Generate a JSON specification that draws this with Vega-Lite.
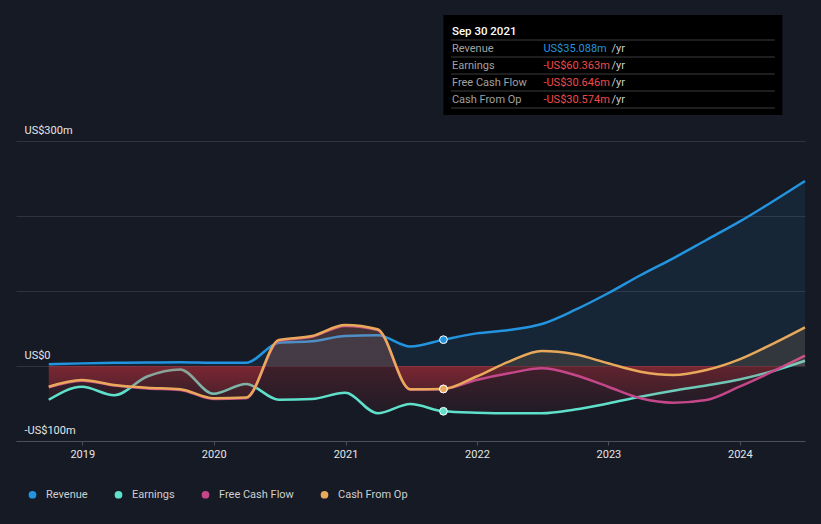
{
  "$schema": "https://vega.github.io/schema/vega-lite/v6.json",
  "width": 789,
  "height": 441,
  "autosize": {"type": "none"},
  "padding": {"left": 16, "top": 0, "right": 16, "bottom": 83},
  "background": "#151a24",
  "config": {"view": {"stroke": null}, "font": "Roboto"},
  "datasets": {
    "fin": [
      {"date": "2018-09-30", "series": "Revenue", "value": 2.3},
      {"date": "2018-12-31", "series": "Revenue", "value": 3.5},
      {"date": "2019-03-31", "series": "Revenue", "value": 4.2},
      {"date": "2019-06-30", "series": "Revenue", "value": 4.6},
      {"date": "2019-09-30", "series": "Revenue", "value": 5.0},
      {"date": "2019-12-31", "series": "Revenue", "value": 4.3},
      {"date": "2020-03-31", "series": "Revenue", "value": 4.4},
      {"date": "2020-06-30", "series": "Revenue", "value": 31},
      {"date": "2020-09-30", "series": "Revenue", "value": 33},
      {"date": "2020-12-31", "series": "Revenue", "value": 40},
      {"date": "2021-03-31", "series": "Revenue", "value": 41},
      {"date": "2021-06-30", "series": "Revenue", "value": 26},
      {"date": "2021-09-30", "series": "Revenue", "value": 35.088},
      {"date": "2021-12-31", "series": "Revenue", "value": 43.5},
      {"date": "2022-03-31", "series": "Revenue", "value": 48},
      {"date": "2022-06-30", "series": "Revenue", "value": 56},
      {"date": "2022-09-30", "series": "Revenue", "value": 74.7},
      {"date": "2022-12-31", "series": "Revenue", "value": 97},
      {"date": "2023-03-31", "series": "Revenue", "value": 121},
      {"date": "2023-06-30", "series": "Revenue", "value": 143.6},
      {"date": "2023-09-30", "series": "Revenue", "value": 168},
      {"date": "2023-12-31", "series": "Revenue", "value": 192.4},
      {"date": "2024-03-31", "series": "Revenue", "value": 219},
      {"date": "2024-06-30", "series": "Revenue", "value": 246.7},
      {"date": "2018-09-30", "series": "Earnings", "value": -45},
      {"date": "2018-12-31", "series": "Earnings", "value": -27.6},
      {"date": "2019-03-31", "series": "Earnings", "value": -39},
      {"date": "2019-06-30", "series": "Earnings", "value": -14},
      {"date": "2019-09-30", "series": "Earnings", "value": -4.5},
      {"date": "2019-12-31", "series": "Earnings", "value": -37},
      {"date": "2020-03-31", "series": "Earnings", "value": -24},
      {"date": "2020-06-30", "series": "Earnings", "value": -45},
      {"date": "2020-09-30", "series": "Earnings", "value": -44},
      {"date": "2020-12-31", "series": "Earnings", "value": -35.6},
      {"date": "2021-03-31", "series": "Earnings", "value": -63},
      {"date": "2021-06-30", "series": "Earnings", "value": -50.7},
      {"date": "2021-09-30", "series": "Earnings", "value": -60.363},
      {"date": "2021-12-31", "series": "Earnings", "value": -62.2},
      {"date": "2022-03-31", "series": "Earnings", "value": -63},
      {"date": "2022-06-30", "series": "Earnings", "value": -63},
      {"date": "2022-09-30", "series": "Earnings", "value": -58},
      {"date": "2022-12-31", "series": "Earnings", "value": -50},
      {"date": "2023-03-31", "series": "Earnings", "value": -41},
      {"date": "2023-06-30", "series": "Earnings", "value": -33},
      {"date": "2023-09-30", "series": "Earnings", "value": -26},
      {"date": "2023-12-31", "series": "Earnings", "value": -18},
      {"date": "2024-03-31", "series": "Earnings", "value": -7},
      {"date": "2024-06-30", "series": "Earnings", "value": 7},
      {"date": "2018-09-30", "series": "Free Cash Flow", "value": -28.5},
      {"date": "2018-12-31", "series": "Free Cash Flow", "value": -19.5},
      {"date": "2019-03-31", "series": "Free Cash Flow", "value": -26},
      {"date": "2019-06-30", "series": "Free Cash Flow", "value": -30},
      {"date": "2019-09-30", "series": "Free Cash Flow", "value": -32},
      {"date": "2019-12-31", "series": "Free Cash Flow", "value": -44},
      {"date": "2020-03-31", "series": "Free Cash Flow", "value": -43},
      {"date": "2020-06-30", "series": "Free Cash Flow", "value": 33.5},
      {"date": "2020-09-30", "series": "Free Cash Flow", "value": 39},
      {"date": "2020-12-31", "series": "Free Cash Flow", "value": 53.5},
      {"date": "2021-03-31", "series": "Free Cash Flow", "value": 48},
      {"date": "2021-06-30", "series": "Free Cash Flow", "value": -31.5},
      {"date": "2021-09-30", "series": "Free Cash Flow", "value": -30.646},
      {"date": "2021-12-31", "series": "Free Cash Flow", "value": -18.7},
      {"date": "2022-03-31", "series": "Free Cash Flow", "value": -9.8},
      {"date": "2022-06-30", "series": "Free Cash Flow", "value": -3.1},
      {"date": "2022-09-30", "series": "Free Cash Flow", "value": -12},
      {"date": "2022-12-31", "series": "Free Cash Flow", "value": -27.6},
      {"date": "2023-03-31", "series": "Free Cash Flow", "value": -43},
      {"date": "2023-06-30", "series": "Free Cash Flow", "value": -48.9},
      {"date": "2023-09-30", "series": "Free Cash Flow", "value": -45.3},
      {"date": "2023-12-31", "series": "Free Cash Flow", "value": -27.6},
      {"date": "2024-03-31", "series": "Free Cash Flow", "value": -7.6},
      {"date": "2024-06-30", "series": "Free Cash Flow", "value": 13.8},
      {"date": "2018-09-30", "series": "Cash From Op", "value": -27.6},
      {"date": "2018-12-31", "series": "Cash From Op", "value": -18.7},
      {"date": "2019-03-31", "series": "Cash From Op", "value": -25.3},
      {"date": "2019-06-30", "series": "Cash From Op", "value": -29},
      {"date": "2019-09-30", "series": "Cash From Op", "value": -31},
      {"date": "2019-12-31", "series": "Cash From Op", "value": -43},
      {"date": "2020-03-31", "series": "Cash From Op", "value": -42},
      {"date": "2020-06-30", "series": "Cash From Op", "value": 34.7},
      {"date": "2020-09-30", "series": "Cash From Op", "value": 40},
      {"date": "2020-12-31", "series": "Cash From Op", "value": 54.7},
      {"date": "2021-03-31", "series": "Cash From Op", "value": 49},
      {"date": "2021-06-30", "series": "Cash From Op", "value": -31},
      {"date": "2021-09-30", "series": "Cash From Op", "value": -30.574},
      {"date": "2021-12-31", "series": "Cash From Op", "value": -14},
      {"date": "2022-03-31", "series": "Cash From Op", "value": 5.8},
      {"date": "2022-06-30", "series": "Cash From Op", "value": 20},
      {"date": "2022-09-30", "series": "Cash From Op", "value": 15.6},
      {"date": "2022-12-31", "series": "Cash From Op", "value": 3.6},
      {"date": "2023-03-31", "series": "Cash From Op", "value": -7.6},
      {"date": "2023-06-30", "series": "Cash From Op", "value": -12},
      {"date": "2023-09-30", "series": "Cash From Op", "value": -5.3},
      {"date": "2023-12-31", "series": "Cash From Op", "value": 8.9},
      {"date": "2024-03-31", "series": "Cash From Op", "value": 29.3},
      {"date": "2024-06-30", "series": "Cash From Op", "value": 51.6}
    ],
    "tip": [
      {"k": 0, "label": "Sep 30 2021", "val": "", "unit": ""},
      {"k": 1, "label": "Revenue", "val": "US$35.088m", "unit": "/yr"},
      {"k": 2, "label": "Earnings", "val": "-US$60.363m", "unit": "/yr"},
      {"k": 3, "label": "Free Cash Flow", "val": "-US$30.646m", "unit": "/yr"},
      {"k": 4, "label": "Cash From Op", "val": "-US$30.574m", "unit": "/yr"}
    ]
  },
  "layer": [
    {
      "data": {"name": "fin"},
      "encoding": {
        "x": {
          "field": "date", "type": "temporal",
          "scale": {"domain": [{"year": 2018, "month": 7, "date": 1}, {"year": 2024, "month": 6, "date": 30}]},
          "axis": {"title": null, "format": "%Y", "tickCount": "year", "grid": false, "domainColor": "#4b505a", "tickColor": "#4b505a", "tickSize": 4, "labelColor": "#e6e6e6", "labelFontSize": 11, "labelPadding": 3, "labelFlush": false}
        },
        "y": {
          "field": "value", "type": "quantitative",
          "scale": {"domain": [-100, 488], "nice": false, "zero": false},
          "axis": {"title": null, "values": [-100, 0, 100, 200, 300], "labelExpr": "datum.value === 300 ? 'US$300m' : datum.value === 0 ? 'US$0' : datum.value === -100 ? '-US$100m' : ''", "domain": false, "ticks": false, "tickSize": 0, "grid": true, "gridColor": "#2e333d", "labelAlign": "left", "labelPadding": -8, "labelBaseline": "alphabetic", "labelOffset": -8, "labelColor": "#e6e6e6", "labelFontSize": 11}
        }
      },
      "layer": [
        {
          "data": {"values": [{}]},
          "mark": {"type": "rect", "color": "#000000", "opacity": 0.12},
          "encoding": {
            "x": {"datum": {"year": 2018, "month": 7, "date": 1}, "type": "temporal"},
            "x2": {"datum": {"year": 2020, "month": 9, "date": 30}},
            "y": {"datum": -100, "type": "quantitative"},
            "y2": {"datum": 300}
          }
        },
        {
          "data": {"values": [{}]},
          "mark": {"type": "rect", "opacity": 1, "color": {"gradient": "linear", "x1": 0, "y1": 0, "x2": 1, "y2": 0, "stops": [{"offset": 0, "color": "rgba(8,22,50,0.35)"}, {"offset": 1, "color": "rgba(5,40,95,0.55)"}]}},
          "encoding": {
            "x": {"datum": {"year": 2020, "month": 9, "date": 30}, "type": "temporal"},
            "x2": {"datum": {"year": 2021, "month": 9, "date": 30}},
            "y": {"datum": -100, "type": "quantitative"},
            "y2": {"datum": 300}
          }
        },
        {
          "data": {"values": [{}]},
          "mark": {"type": "rule", "color": "#ffffff", "strokeWidth": 1},
          "encoding": {
            "x": {"datum": {"year": 2018, "month": 7, "date": 1}, "type": "temporal"},
            "x2": {"datum": {"year": 2024, "month": 6, "date": 30}},
            "y": {"datum": 0, "type": "quantitative"}
          }
        },
        {
          "data": {"values": [{}]},
          "mark": {"type": "rule", "color": "#2a3b5a", "strokeWidth": 1},
          "encoding": {
            "x": {"datum": {"year": 2021, "month": 9, "date": 30}, "type": "temporal"},
            "y": {"datum": -100, "type": "quantitative"},
            "y2": {"datum": 468}
          }
        },
        {
          "transform": [{"filter": "datum.series === 'Revenue'"}],
          "mark": {"type": "area", "interpolate": "monotone", "opacity": 1, "color": "rgba(35,148,223,0.1)"},
          "encoding": {"y2": {"datum": 0}}
        },
        {
          "transform": [{"filter": "datum.series === 'Revenue'"}],
          "mark": {"type": "line", "interpolate": "monotone", "strokeWidth": 2.5, "color": "#2394df"}
        },
        {
          "transform": [{"filter": "datum.series === 'Earnings'"}],
          "mark": {"type": "area", "interpolate": "monotone", "opacity": 1, "color": {"gradient": "linear", "x1": 0, "y1": 0, "x2": 0, "y2": 1, "stops": [{"offset": 0, "color": "rgba(100,225,205,0.08)"}, {"offset": 0.1, "color": "rgba(100,225,205,0.08)"}, {"offset": 0.1, "color": "rgba(214,50,62,0.22)"}, {"offset": 1, "color": "rgba(214,50,62,0.06)"}]}},
          "encoding": {"y2": {"datum": 0}}
        },
        {
          "transform": [{"filter": "datum.series === 'Earnings'"}],
          "mark": {"type": "line", "interpolate": "monotone", "strokeWidth": 2.5, "color": "#5fe0cb"}
        },
        {
          "transform": [{"filter": "datum.series === 'Free Cash Flow'"}],
          "mark": {"type": "area", "interpolate": "monotone", "opacity": 1, "color": {"gradient": "linear", "x1": 0, "y1": 0, "x2": 0, "y2": 1, "stops": [{"offset": 0, "color": "rgba(200,74,134,0.12)"}, {"offset": 0.5225, "color": "rgba(200,74,134,0.12)"}, {"offset": 0.5225, "color": "rgba(214,50,62,0.22)"}, {"offset": 1, "color": "rgba(214,50,62,0.08)"}]}},
          "encoding": {"y2": {"datum": 0}}
        },
        {
          "transform": [{"filter": "datum.series === 'Free Cash Flow'"}],
          "mark": {"type": "line", "interpolate": "monotone", "strokeWidth": 2.5, "color": "#c4478a"}
        },
        {
          "transform": [{"filter": "datum.series === 'Cash From Op'"}],
          "mark": {"type": "area", "interpolate": "monotone", "opacity": 1, "color": {"gradient": "linear", "x1": 0, "y1": 0, "x2": 0, "y2": 1, "stops": [{"offset": 0, "color": "rgba(232,168,92,0.13)"}, {"offset": 0.56, "color": "rgba(232,168,92,0.13)"}, {"offset": 0.56, "color": "rgba(214,50,62,0.22)"}, {"offset": 1, "color": "rgba(214,50,62,0.08)"}]}},
          "encoding": {"y2": {"datum": 0}}
        },
        {
          "transform": [{"filter": "datum.series === 'Cash From Op'"}],
          "mark": {"type": "line", "interpolate": "monotone", "strokeWidth": 2.5, "color": "#e9a95b"}
        },
        {
          "transform": [{"filter": {"field": "date", "range": [{"year": 2021, "month": 9, "date": 29}, {"year": 2021, "month": 10, "date": 1}]}}],
          "mark": {"type": "point", "filled": true, "size": 60, "stroke": "#ffffff", "strokeWidth": 1, "opacity": 1},
          "encoding": {
            "color": {
              "field": "series", "type": "nominal",
              "scale": {"domain": ["Revenue", "Earnings", "Free Cash Flow", "Cash From Op"], "range": ["#2394df", "#5fe0cb", "#c4478a", "#e9a95b"]},
              "legend": {"orient": "none", "legendX": 11, "legendY": 489, "direction": "horizontal", "columns": 4, "columnPadding": 25, "title": null, "symbolType": "circle", "symbolSize": 60, "symbolStrokeWidth": 0, "symbolOpacity": 1, "labelFontSize": 11, "labelColor": "#cfcfcf", "labelOffset": 8}
            }
          }
        },
        {
          "data": {"values": [{}]},
          "mark": {"type": "text", "text": "Past", "align": "right", "baseline": "alphabetic", "dx": -8, "fontSize": 11, "color": "#ffffff"},
          "encoding": {
            "x": {"datum": {"year": 2021, "month": 9, "date": 30}, "type": "temporal"},
            "y": {"datum": 279, "type": "quantitative"}
          }
        },
        {
          "data": {"values": [{}]},
          "mark": {"type": "text", "text": "Analysts Forecasts", "align": "left", "baseline": "alphabetic", "dx": 8, "fontSize": 11, "color": "#8d929b"},
          "encoding": {
            "x": {"datum": {"year": 2021, "month": 9, "date": 30}, "type": "temporal"},
            "y": {"datum": 279, "type": "quantitative"}
          }
        }
      ]
    },
    {
      "data": {"name": "tip"},
      "encoding": {
        "y": {"field": "k", "type": "ordinal", "scale": {"type": "point", "domain": [0, 1, 2, 3, 4], "range": [35, 103], "padding": 0}, "axis": null}
      },
      "layer": [
        {
          "data": {"values": [{}]},
          "mark": {"type": "rect", "color": "#000000", "opacity": 1, "yOffset": -20, "y2Offset": 12},
          "encoding": {
            "x": {"datum": {"year": 2021, "month": 9, "date": 30}, "type": "temporal"},
            "x2": {"datum": {"year": 2024, "month": 4, "date": 28}},
            "y": {"datum": 0, "type": "ordinal", "axis": null},
            "y2": {"datum": 4}
          }
        },
        {
          "mark": {"type": "rule", "color": "#3c3c3c", "strokeWidth": 1, "yOffset": 5},
          "encoding": {
            "x": {"datum": {"year": 2021, "month": 10, "date": 21}, "type": "temporal"},
            "x2": {"datum": {"year": 2024, "month": 4, "date": 7}}
          }
        },
        {
          "transform": [{"filter": "datum.k === 0"}],
          "mark": {"type": "text", "align": "left", "baseline": "alphabetic", "dx": 8.5, "fontSize": 11.5, "fontWeight": 500, "color": "#ffffff"},
          "encoding": {
            "x": {"datum": {"year": 2021, "month": 9, "date": 30}, "type": "temporal"},
            "text": {"field": "label"}
          }
        },
        {
          "transform": [{"filter": "datum.k > 0"}],
          "mark": {"type": "text", "align": "left", "baseline": "alphabetic", "dx": 8.5, "fontSize": 11, "color": "#a0a0a0"},
          "encoding": {
            "x": {"datum": {"year": 2021, "month": 9, "date": 30}, "type": "temporal"},
            "text": {"field": "label"}
          }
        },
        {
          "transform": [{"filter": "datum.k > 0"}],
          "mark": {"type": "text", "align": "left", "baseline": "alphabetic", "dx": 100, "fontSize": 11},
          "encoding": {
            "x": {"datum": {"year": 2021, "month": 9, "date": 30}, "type": "temporal"},
            "text": {"field": "val"},
            "color": {"condition": {"test": "datum.k === 1", "value": "#2394df"}, "value": "#ef4b4b"}
          }
        },
        {
          "transform": [{"filter": "datum.k > 0"}],
          "mark": {"type": "text", "align": "left", "baseline": "alphabetic", "dx": 168, "fontSize": 11, "color": "#cccccc"},
          "encoding": {
            "x": {"datum": {"year": 2021, "month": 9, "date": 30}, "type": "temporal"},
            "text": {"field": "unit"}
          }
        }
      ]
    }
  ],
  "resolve": {"scale": {"y": "independent"}}
}
